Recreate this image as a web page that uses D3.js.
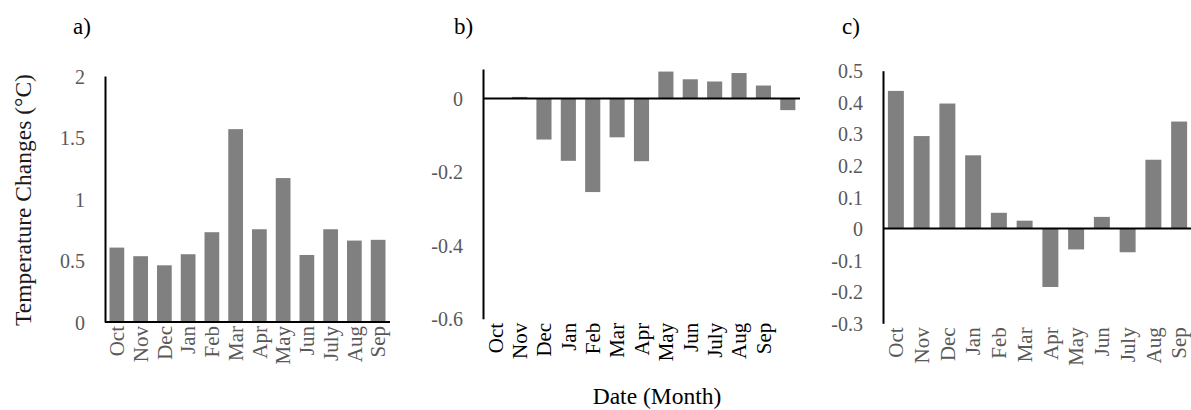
<!DOCTYPE html>
<html>
<head>
<meta charset="utf-8">
<script src="https://cdn.jsdelivr.net/npm/d3@7/dist/d3.min.js"></script>
<style>
  html, body { margin: 0; padding: 0; background: #fff; }
  svg { display: block; font-family: "Liberation Serif", "Times New Roman", serif; }
</style>
</head>
<body>
<svg id="chart" width="1191" height="410"></svg>
<script>
/* data */
const months  = ["Oct", "Nov", "Dec", "Jan", "Feb", "Mar", "Apr", "May", "Jun", "July", "Aug", "Sep"];
const monthsB = ["Oct", "Nov", "Dec", "Jan", "Feb", "Mar", "Apr", "May", "Jun", "July", "Aug", "Sep", ""];
const tempA = [0.605, 0.535, 0.461, 0.551, 0.730, 1.568, 0.754, 1.170, 0.545, 0.754, 0.662, 0.668];
const tempB = [0, 0.004, -0.112, -0.170, -0.255, -0.106, -0.171, 0.073, 0.052, 0.046, 0.069, 0.035, -0.032];
const tempC = [0.436, 0.293, 0.396, 0.232, 0.050, 0.025, -0.185, -0.066, 0.037, -0.075, 0.218, 0.339];
const ticksA = [0, 0.5, 1, 1.5, 2];
const ticksB = [-0.6, -0.4, -0.2, 0];
const ticksC = [-0.3, -0.2, -0.1, 0, 0.1, 0.2, 0.3, 0.4, 0.5];

const svg = d3.select("#chart");
const BAR = "#808080", GREY = "#595959";
// plain hyphen for negatives, like the original
const fmt = d => String(+d.toFixed(2));

// one panel: left axis x, x end, y top/bottom, domain, ticks
function panel(cfg) {
  const { labels, values, x0, x1, yTop, yBot, domain, ticks, labelColor } = cfg;
  const x = d3.scaleBand().domain(d3.range(labels.length)).range([x0, x1])
    .paddingInner(0.38).paddingOuter(0.19);
  const y = d3.scaleLinear().domain(domain).range([yBot, yTop]);

  svg.append("g").selectAll("rect").data(values).join("rect")
    .attr("x", (d, i) => x(i))
    .attr("width", x.bandwidth())
    .attr("y", d => y(Math.max(0, d)))
    .attr("height", d => Math.abs(y(d) - y(0)))
    .attr("fill", BAR);

  // y axis
  const ya = svg.append("g").attr("transform", `translate(${x0},0)`)
    .call(d3.axisLeft(y).tickValues(ticks).tickSize(0).tickSizeOuter(0).tickFormat(fmt));
  ya.select(".domain").attr("stroke", "#000").attr("stroke-width", 2);
  ya.selectAll("text")
    .attr("x", -20).attr("dy", "0.35em")
    .attr("fill", GREY)
    .style("font-size", "20px").style("font-family", "Liberation Serif");

  // month labels at the bottom
  const xa = svg.append("g").attr("transform", `translate(0,${yBot})`)
    .call(d3.axisBottom(x).tickSize(0).tickFormat(i => labels[i]));
  xa.select(".domain").remove();
  xa.selectAll("text")
    .attr("transform", "rotate(-90)")
    .attr("text-anchor", "end")
    .attr("x", -4).attr("y", 0).attr("dy", "0.35em")
    .attr("fill", labelColor)
    .style("font-size", "21px").style("font-family", "Liberation Serif");

  // zero line
  svg.append("line")
    .attr("x1", x0).attr("x2", x1)
    .attr("y1", y(0)).attr("y2", y(0))
    .attr("stroke", "#000").attr("stroke-width", 2);
}

panel({ labels: months, values: tempA, x0: 105, x1: 390, yTop: 76, yBot: 322,
  domain: [0, 2], ticks: ticksA, labelColor: GREY });
panel({ labels: monthsB, values: tempB, x0: 483, x1: 800, yTop: 69, yBot: 318.8,
  domain: [-0.6, 0.08], ticks: ticksB, labelColor: "#000" });
panel({ labels: months, values: tempC, x0: 883, x1: 1192, yTop: 70.7, yBot: 323.3,
  domain: [-0.3, 0.5], ticks: ticksC, labelColor: GREY });

// panel letters
[["a)", 73], ["b)", 454], ["c)", 842]].forEach(([t, px]) => {
  svg.append("text").attr("x", px).attr("y", 34).text(t)
    .attr("fill", "#000").style("font-size", "23px");
});

// axis titles
svg.append("text")
  .attr("transform", "translate(23,200) rotate(-90)")
  .attr("text-anchor", "middle").attr("dy", "0.35em")
  .attr("fill", "#1a1a1a").style("font-size", "23.5px")
  .text("Temperature Changes (°C)");

svg.append("text")
  .attr("x", 657).attr("y", 404).attr("text-anchor", "middle")
  .attr("fill", "#000").style("font-size", "23.5px")
  .text("Date (Month)");
</script>
</body>
</html>
